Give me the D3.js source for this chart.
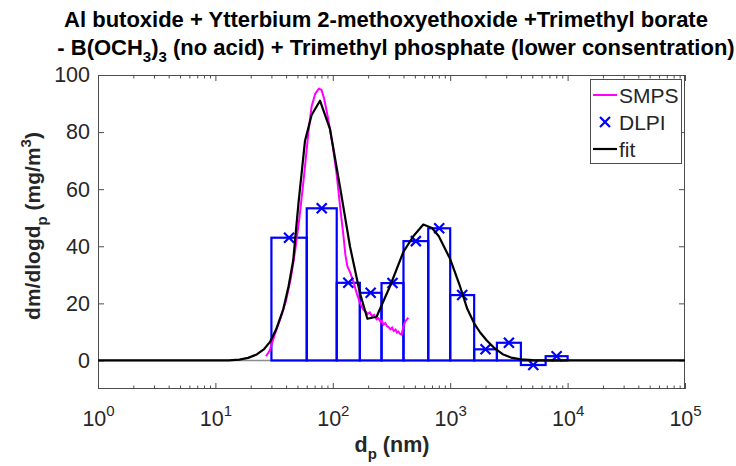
<!DOCTYPE html>
<html>
<head>
<meta charset="utf-8">
<script src="https://cdn.jsdelivr.net/npm/d3@7"></script>
<style>
  html, body { margin: 0; padding: 0; background: #fff; }
  svg { display: block; font-family: "Liberation Sans", Arial, sans-serif; }
</style>
</head>
<body>
<svg id="chart" width="736" height="466"></svg>
<script>
// DLPI impactor stage boundaries (nm) and measured dm/dlogdp per stage
const dlpiEdges = [30, 60, 108, 170, 260, 400, 650, 1000, 1600, 2500, 4000, 6500, 10000];
const dlpiValues = [43.0, 53.3, 27.2, 23.7, 27.1, 41.8, 46.3, 22.9, 3.9, 6.2, -1.6, 1.5];

// SMPS scan: mobility diameter (nm) and dm/dlogdp
const smpsDiameter = [27, 29, 32, 36, 40, 44, 48, 52, 57, 62, 66, 71, 76, 80, 84, 88, 92, 100, 108, 116,
  123, 128, 133, 140, 150, 160, 171, 182, 190, 198, 207, 215, 225, 236, 245, 255, 262, 270, 280, 290,
  300, 310, 320, 330, 342, 352, 362, 372, 386, 392, 400, 412, 425, 440];
const smpsValue = [1.5, 3.5, 9, 15, 21, 29, 39, 50, 65, 80, 89, 93.5, 95.2, 94.8, 92, 88, 84, 75, 65, 53,
  44, 37, 33, 31, 27.5, 23.5, 20, 17.8, 17.2, 16.3, 16.8, 15.6, 16, 14.4, 14.8, 13.5, 14, 12.5, 13.1, 12,
  11.6, 10.9, 11.5, 10.3, 10.8, 9.8, 10.1, 9.4, 9.0, 10.5, 12, 13.5, 14.2, 15];

// Bimodal fit evaluated over the full size range
const fitDiameter = [1, 5, 10, 13, 16, 19, 22.5, 26, 29.2, 33, 37.9, 42, 46, 51, 58, 66, 77.8, 94.7, 115, 140,
  170, 197, 236, 307, 399, 485, 590, 700, 800, 1000, 1211, 1400, 1600, 1800, 2050, 2400, 2800, 3300, 4000,
  5000, 7000, 10000, 100000];
const fitValue = [0, 0, 0, 0.05, 0.3, 0.9, 2.1, 4, 6.5, 11, 18, 26, 35, 55, 77, 86, 91, 81, 61, 40,
  23.7, 14.6, 15.3, 26, 38, 43.5, 47.6, 46.4, 43.5, 35.5, 26, 18, 13, 9.8, 7, 4.2, 2.2, 1.0, 0.4,
  0.1, 0, 0, 0];

// Axis ticks and labels
const xMajorExp = [0, 1, 2, 3, 4, 5];
const yTicks = [0, 20, 40, 60, 80, 100];
const titleLines = ["Al butoxide + Ytterbium 2-methoxyethoxide +Trimethyl borate"];
const legendLabels = ["SMPS", "DLPI", "fit"];

const svg = d3.select("#chart");
const L = 98, R = 685, T = 75, B = 389;
const x = d3.scaleLog().domain([1, 1e5]).range([L, R]);
const y = d3.scaleLinear().domain([-10, 100]).range([B, T]);

const axisColor = "#4d4d4d";
const textColor = "#262626";
const tickFont = 21.5;

// Title
const title = svg.append("g").attr("font-weight", "bold").attr("font-size", 22)
  .attr("fill", "#000").attr("text-anchor", "middle");
title.append("text").attr("x", 386).attr("y", 27).text(titleLines[0]);
const t2 = title.append("text").attr("x", 396).attr("y", 55);
t2.append("tspan").text("- B(OCH");
t2.append("tspan").attr("font-size", 15).attr("dy", 7).text("3");
t2.append("tspan").attr("dy", -7).text(")");
t2.append("tspan").attr("font-size", 15).attr("dy", 7).text("3");
t2.append("tspan").attr("dy", -7).text(" (no acid) + Trimethyl phosphate (lower consentration)");

// Plot background
svg.append("rect").attr("x", L).attr("y", T).attr("width", R - L).attr("height", B - T).attr("fill", "#fff");

// Minor / major ticks on x (bottom and top, pointing inward)
const minorVals = [];
for (let e = 0; e < 5; e++) for (let m = 2; m <= 9; m++) minorVals.push(m * Math.pow(10, e));
const majorVals = xMajorExp.map(e => Math.pow(10, e));

svg.append("g").attr("transform", `translate(0,${B})`)
  .call(d3.axisBottom(x).tickValues(minorVals).tickSizeInner(-3.5).tickSizeOuter(0).tickFormat(""))
  .call(g => g.select(".domain").remove())
  .selectAll("line").attr("stroke", axisColor);
svg.append("g").attr("transform", `translate(0,${T})`)
  .call(d3.axisTop(x).tickValues(minorVals).tickSizeInner(-3.5).tickSizeOuter(0).tickFormat(""))
  .call(g => g.select(".domain").remove())
  .selectAll("line").attr("stroke", axisColor);

const xBottom = svg.append("g").attr("transform", `translate(0,${B})`)
  .call(d3.axisBottom(x).tickValues(majorVals).tickSizeInner(-6).tickSizeOuter(0).tickPadding(15).tickFormat(""));
xBottom.select(".domain").remove();
xBottom.selectAll("line").attr("stroke", axisColor);
xBottom.selectAll(".tick text").each(function(d) {
  const t = d3.select(this).attr("font-size", tickFont).attr("fill", textColor)
    .attr("font-family", "'Liberation Sans', Arial, sans-serif").attr("dy", "1em");
  t.append("tspan").text("10");
  t.append("tspan").attr("font-size", 15).attr("dy", -10).text(String(Math.round(Math.log10(d))));
});
svg.append("g").attr("transform", `translate(0,${T})`)
  .call(d3.axisTop(x).tickValues(majorVals).tickSizeInner(-6).tickSizeOuter(0).tickFormat(""))
  .call(g => g.select(".domain").remove())
  .selectAll("line").attr("stroke", axisColor);

// y axis (left with labels, right ticks only)
const yLeft = svg.append("g").attr("transform", `translate(${L},0)`)
  .call(d3.axisLeft(y).tickValues(yTicks).tickSizeInner(-6).tickSizeOuter(0).tickPadding(8));
yLeft.select(".domain").remove();
yLeft.selectAll("line").attr("stroke", axisColor);
yLeft.selectAll("text").attr("font-size", tickFont).attr("fill", textColor)
  .attr("font-family", "'Liberation Sans', Arial, sans-serif");
svg.append("g").attr("transform", `translate(${R},0)`)
  .call(d3.axisRight(y).tickValues(yTicks).tickSizeInner(-6).tickSizeOuter(0).tickFormat(""))
  .call(g => g.select(".domain").remove())
  .selectAll("line").attr("stroke", axisColor);

// Axis box
svg.append("rect").attr("x", L + 0.5).attr("y", T + 0.5).attr("width", R - L - 1).attr("height", B - T - 1)
  .attr("fill", "none").attr("stroke", axisColor).attr("stroke-width", 1);

// Axis labels
const xl = svg.append("text").attr("x", 392).attr("y", 452).attr("text-anchor", "middle")
  .attr("font-weight", "bold").attr("font-size", 21.5).attr("fill", textColor);
xl.append("tspan").text("d");
xl.append("tspan").attr("font-size", 15).attr("dy", 7).text("p");
xl.append("tspan").attr("dy", -7).text(" (nm)");

const yl = svg.append("text").attr("transform", `translate(40,${(T + B) / 2 - 6}) rotate(-90)`)
  .attr("text-anchor", "middle").attr("font-weight", "bold").attr("font-size", 21).attr("fill", textColor);
yl.append("tspan").text("dm/dlogd");
yl.append("tspan").attr("font-size", 15).attr("dy", 7).text("p");
yl.append("tspan").attr("dy", -7).text(" (mg/m");
yl.append("tspan").attr("font-size", 15).attr("dy", -9).text("3");
yl.append("tspan").attr("dy", 9).text(")");

// Plot contents clipped to the axes
svg.append("clipPath").attr("id", "plotClip").append("rect")
  .attr("x", L).attr("y", T).attr("width", R - L).attr("height", B - T);
const plot = svg.append("g").attr("clip-path", "url(#plotClip)");

// bar baseline at zero
plot.append("line").attr("x1", L).attr("x2", R).attr("y1", y(0)).attr("y2", y(0))
  .attr("stroke", "#8c8c8c").attr("stroke-width", 1.5);

// DLPI stages as outlined bars
const stages = dlpiValues.map((v, i) => ({ lo: dlpiEdges[i], hi: dlpiEdges[i + 1], v }));
plot.selectAll("rect.stage").data(stages).join("rect").attr("class", "stage")
  .attr("x", d => x(d.lo)).attr("width", d => x(d.hi) - x(d.lo))
  .attr("y", d => y(Math.max(0, d.v))).attr("height", d => Math.abs(y(d.v) - y(0)))
  .attr("fill", "none").attr("stroke", "#0000ff").attr("stroke-width", 2.2);

// SMPS curve
const smps = smpsDiameter.map((d, i) => [d, smpsValue[i]]);
plot.append("path").datum(smps)
  .attr("d", d3.line().x(d => x(d[0])).y(d => y(d[1])))
  .attr("fill", "none").attr("stroke", "#ff00ff").attr("stroke-width", 2);

// DLPI markers at stage geometric midpoints
const markerSize = 5;
const cross = (cx, cy, s) => `M${cx - s},${cy - s}L${cx + s},${cy + s}M${cx - s},${cy + s}L${cx + s},${cy - s}`;
plot.selectAll("path.dlpi").data(stages).join("path").attr("class", "dlpi")
  .attr("d", d => cross(x(Math.sqrt(d.lo * d.hi)), y(d.v), markerSize))
  .attr("stroke", "#0000ff").attr("stroke-width", 2.2).attr("fill", "none");

// Fit curve
const fit = fitDiameter.map((d, i) => [d, fitValue[i]]);
plot.append("path").datum(fit)
  .attr("d", d3.line().x(d => x(d[0])).y(d => y(d[1])))
  .attr("fill", "none").attr("stroke", "#000").attr("stroke-width", 2.2).attr("stroke-linejoin", "round");

// Legend
const lg = svg.append("g");
lg.append("rect").attr("x", 590.5).attr("y", 79.5).attr("width", 91).attr("height", 84)
  .attr("fill", "#fff").attr("stroke", axisColor).attr("stroke-width", 1);
const rowsY = [95, 122, 149];
lg.append("line").attr("x1", 593).attr("x2", 617).attr("y1", rowsY[0]).attr("y2", rowsY[0])
  .attr("stroke", "#ff00ff").attr("stroke-width", 2);
lg.append("path").attr("d", cross(605, rowsY[1], markerSize))
  .attr("stroke", "#0000ff").attr("stroke-width", 2.2);
lg.append("line").attr("x1", 593).attr("x2", 617).attr("y1", rowsY[2]).attr("y2", rowsY[2])
  .attr("stroke", "#000").attr("stroke-width", 2.2);
legendLabels.forEach((lab, i) => {
  lg.append("text").attr("x", 619).attr("y", rowsY[i] + 7.5).attr("font-size", 21)
    .attr("fill", textColor).text(lab);
});
</script>
</body>
</html>
